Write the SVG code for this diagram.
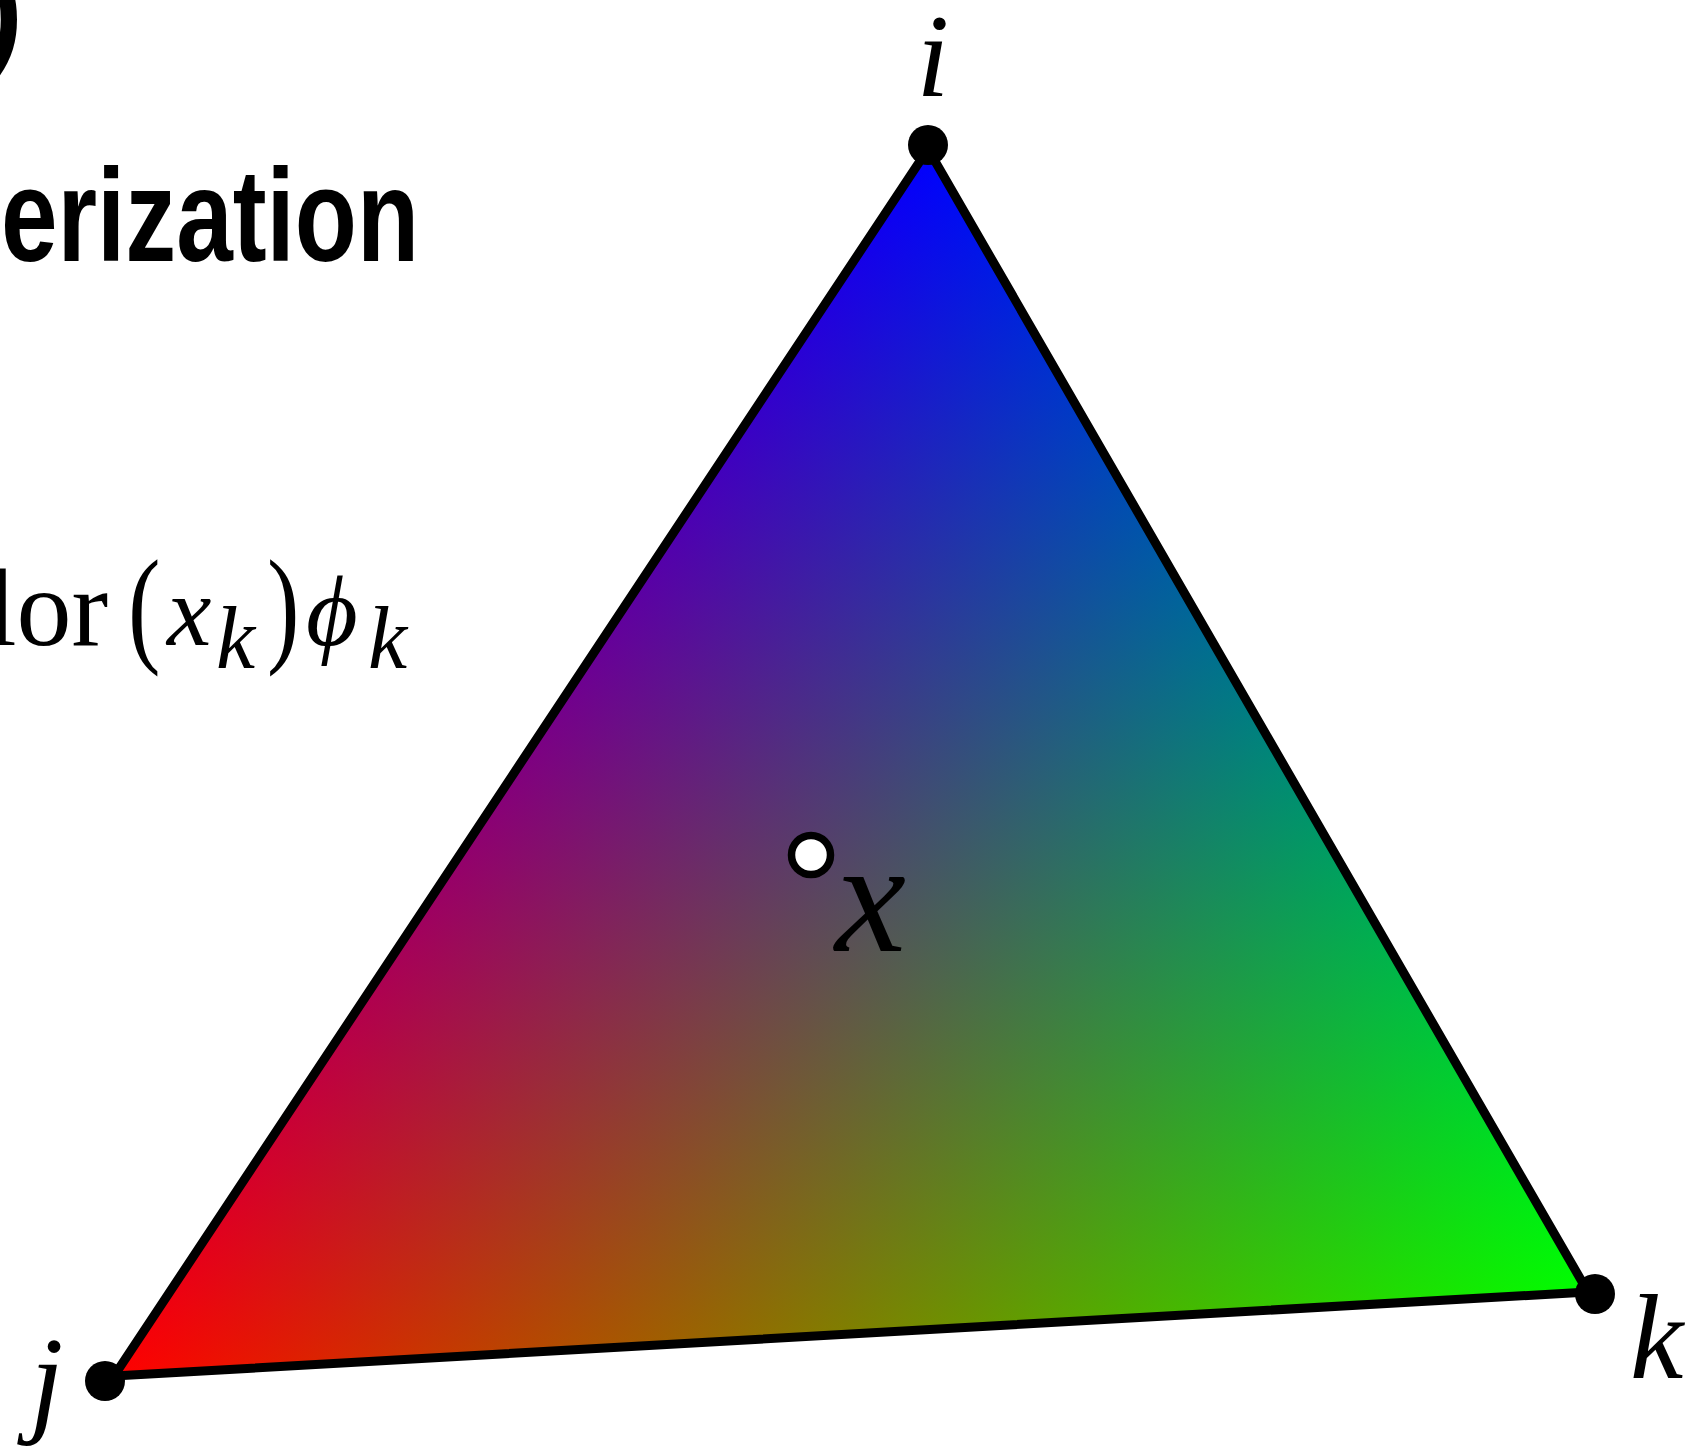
<svg xmlns="http://www.w3.org/2000/svg" width="1703" height="1446" viewBox="0 0 1703 1446">
<style>
.it{font-family:"Liberation Serif","DejaVu Serif",serif;font-style:italic;fill:#000}
.rm{font-family:"Liberation Serif","DejaVu Serif",serif;fill:#000}
.hd{font-family:"Liberation Sans","DejaVu Sans",sans-serif;font-weight:bold;fill:#000}
.vtx{fill:#000}
.edge{fill:none;stroke:#000;stroke-width:9;stroke-linejoin:round}
.blend{mix-blend-mode:screen}
</style>
<defs>
<linearGradient id="gB" gradientUnits="userSpaceOnUse" x1="928" y1="149" x2="995" y2="1325.8"><stop offset="0" stop-color="#0000ff"/><stop offset="1" stop-color="#000000"/></linearGradient>
<linearGradient id="gR" gradientUnits="userSpaceOnUse" x1="114" y1="1376" x2="1255.8" y2="716.7"><stop offset="0" stop-color="#ff0000"/><stop offset="1" stop-color="#000000"/></linearGradient>
<linearGradient id="gG" gradientUnits="userSpaceOnUse" x1="1588" y1="1292" x2="603.2" y2="638.6"><stop offset="0" stop-color="#00ff00"/><stop offset="1" stop-color="#000000"/></linearGradient>
</defs>
<rect width="1703" height="1446" fill="#fff"/>

<g id="heading">
<text class="hd" x="-17" y="51" font-size="120">)</text>
<text class="hd" x="1" y="261" font-size="131" textLength="418" lengthAdjust="spacingAndGlyphs">erization</text>
</g>

<g id="formula">
<text class="rm" x="-14" y="645" font-size="110">lor</text>
<text class="rm" transform="translate(128,649) scale(0.75,1)" font-size="130">(</text>
<text class="it" x="167" y="645" font-size="100">x</text>
<text class="it" x="216" y="668" font-size="88">k</text>
<text class="rm" transform="translate(267,649) scale(0.75,1)" font-size="130">)</text>
<text class="it" x="306" y="645" font-size="100">ϕ</text>
<text class="it" x="368" y="668" font-size="88">k</text>
</g>

<g id="triangle-fill" style="isolation:isolate">
<polygon points="928,149 114,1376 1588,1292" fill="#000"/>
<polygon class="blend" points="928,149 114,1376 1588,1292" fill="url(#gB)"/>
<polygon class="blend" points="928,149 114,1376 1588,1292" fill="url(#gR)"/>
<polygon class="blend" points="928,149 114,1376 1588,1292" fill="url(#gG)"/>
</g>

<g id="connectors">
<polygon class="edge" points="928,149 114,1376 1588,1292"/>
</g>

<g id="vertex-i">
<circle class="vtx" cx="928" cy="145" r="20"/>
<text class="it" x="933" y="96" font-size="118" text-anchor="middle">i</text>
</g>
<g id="vertex-j">
<circle class="vtx" cx="105" cy="1381" r="20"/>
<text class="it" x="30" y="1420" font-size="120">j</text>
</g>
<g id="vertex-k">
<circle class="vtx" cx="1595" cy="1294" r="20"/>
<text class="it" x="1630" y="1378" font-size="120">k</text>
</g>
<g id="point-x">
<circle cx="811" cy="855" r="19.5" fill="#fff" stroke="#000" stroke-width="7.5"/>
<text class="it" x="835" y="951" font-size="160">x</text>
</g>
</svg>
